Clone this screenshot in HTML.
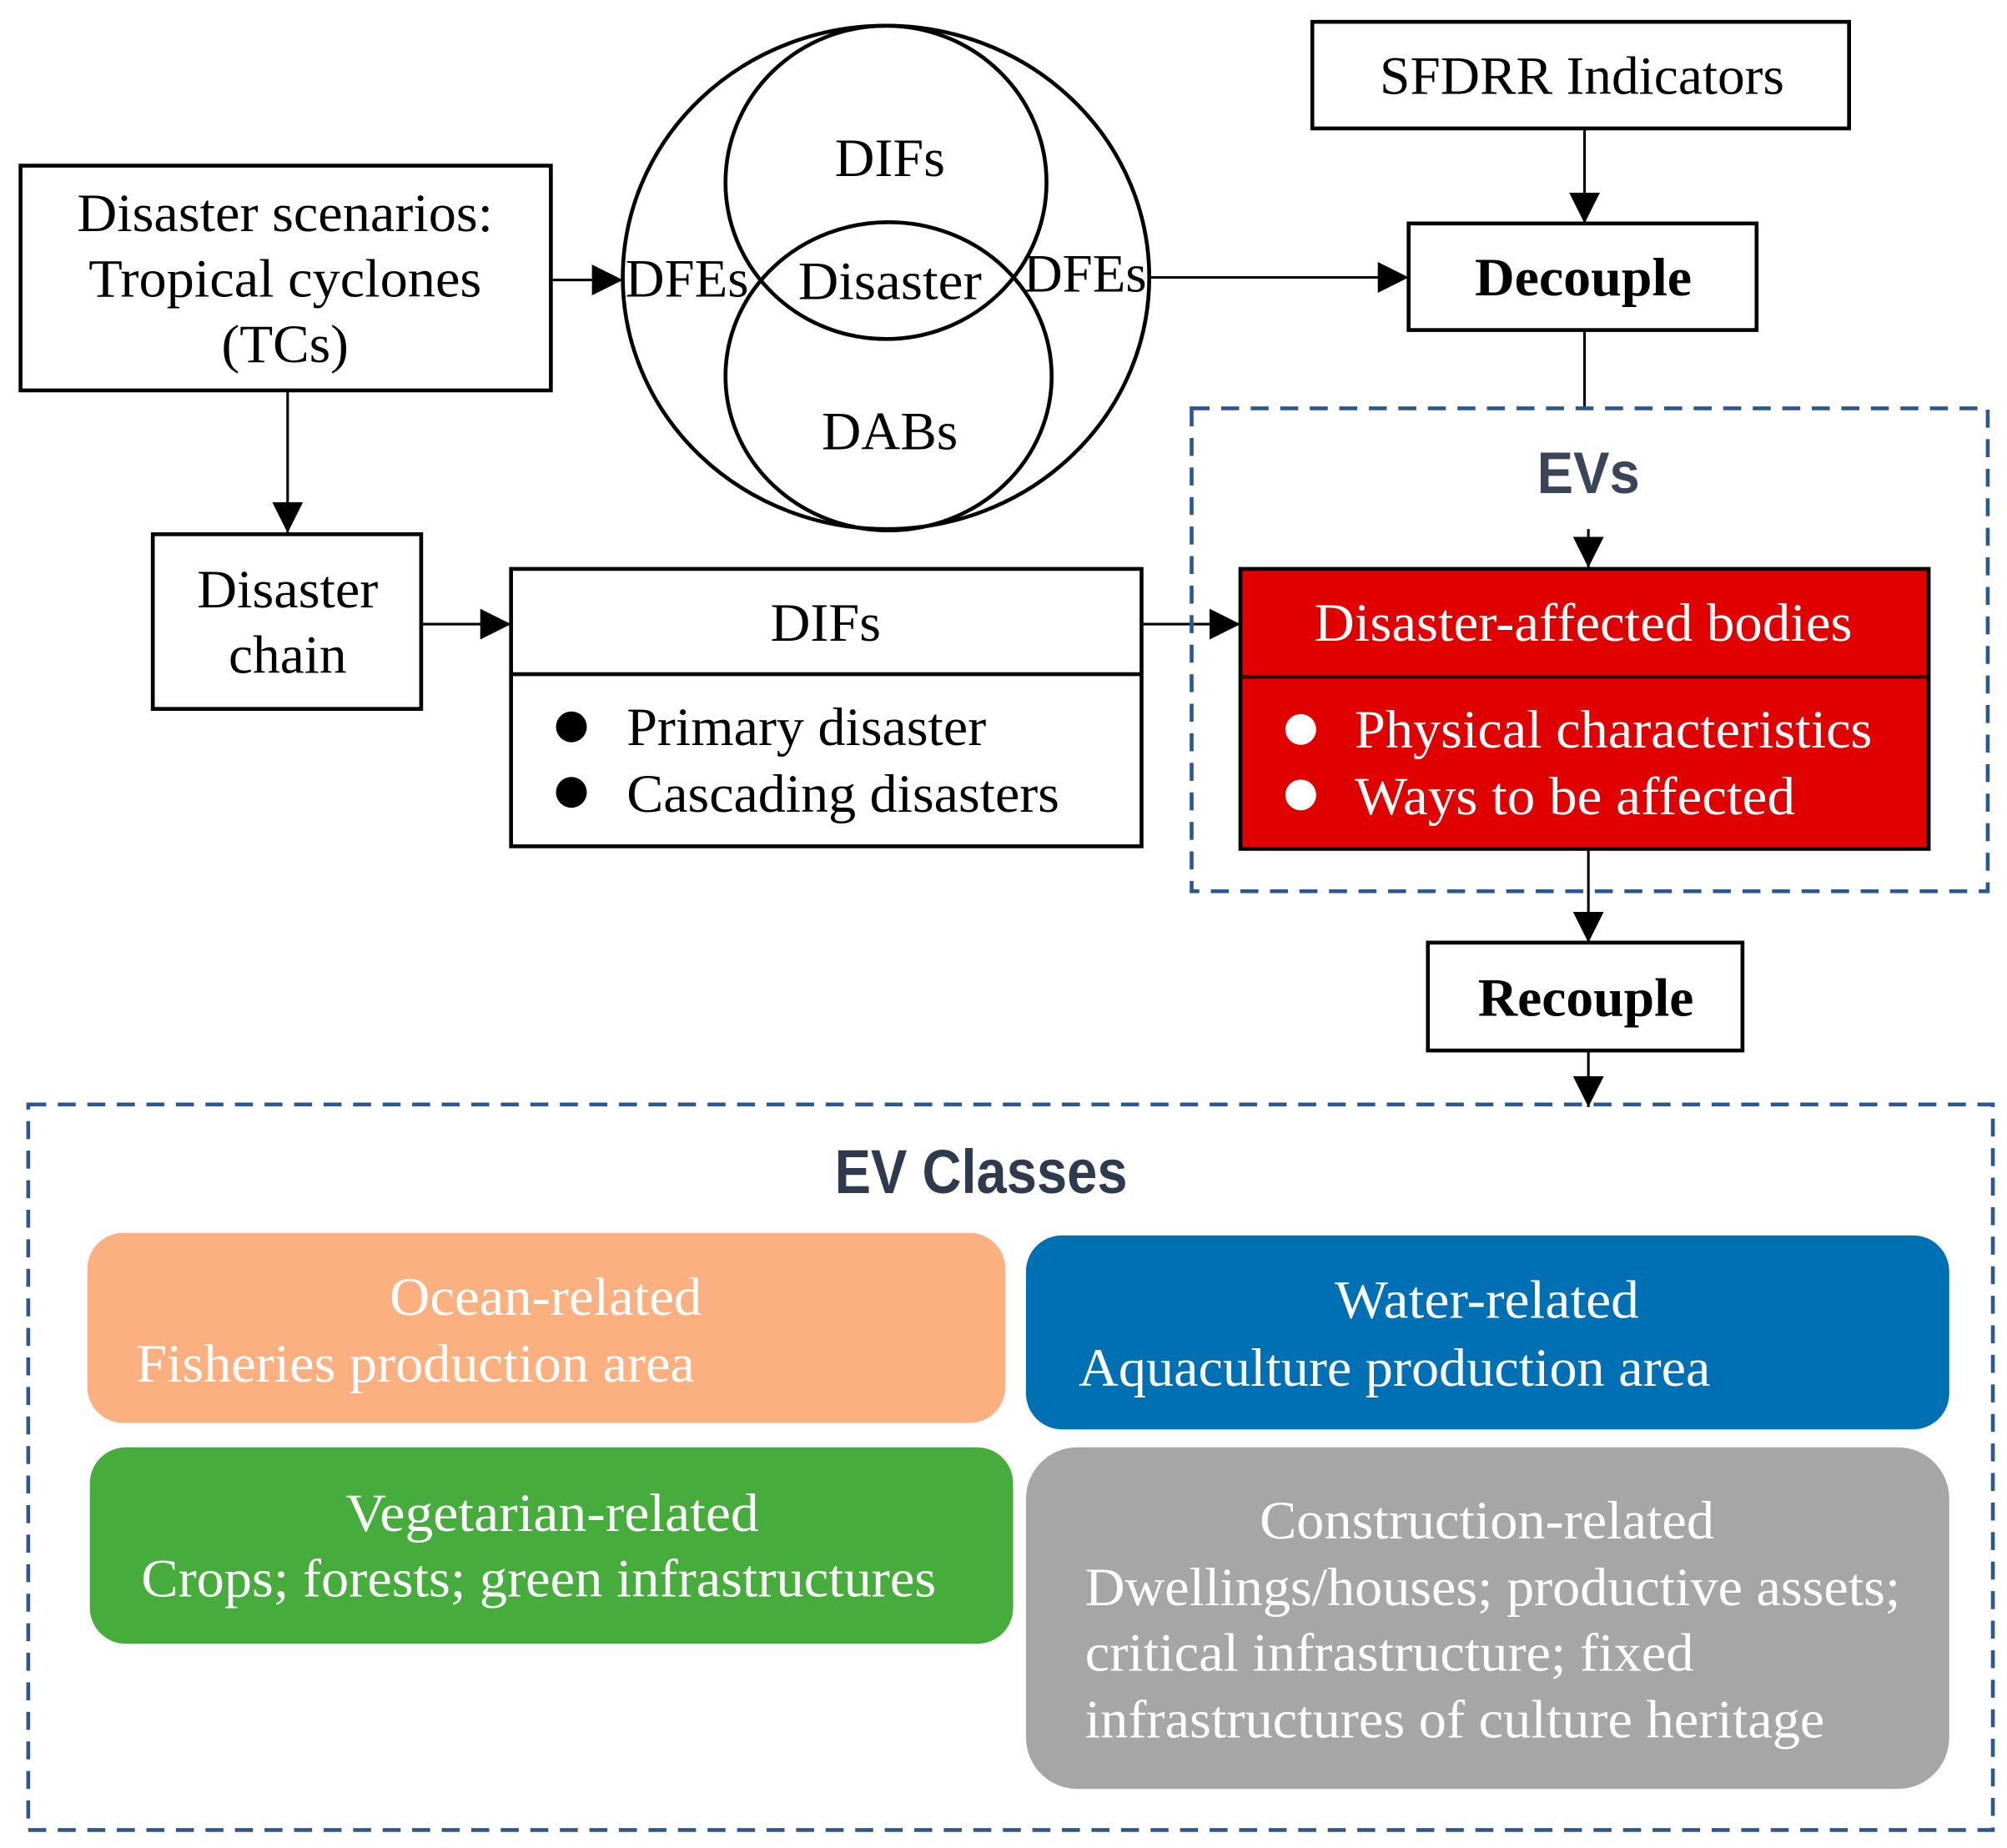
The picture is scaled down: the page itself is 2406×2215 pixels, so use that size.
<!DOCTYPE html>
<html><head><meta charset="utf-8"><style>html,body{margin:0;padding:0;background:#fff}svg{display:block}</style></head>
<body>
<svg width="2406" height="2215" viewBox="0 0 1563 1439" preserveAspectRatio="none" xmlns="http://www.w3.org/2000/svg">
<defs>
<marker id="ah" viewBox="0 0 10 10" refX="10" refY="5" markerWidth="24" markerHeight="24" markerUnits="userSpaceOnUse" orient="auto"><path d="M0,0 L10,5 L0,10 z" fill="#000"/></marker>
</defs>
<g font-family="Liberation Serif, serif" fill="#000" font-size="42">
<!-- Disaster scenarios -->
<rect x="16" y="129" width="413" height="175" fill="#fff" stroke="#000" stroke-width="3"/>
<text x="222" y="180" text-anchor="middle" textLength="324" lengthAdjust="spacingAndGlyphs">Disaster scenarios:</text>
<text x="222" y="231" text-anchor="middle" textLength="306" lengthAdjust="spacingAndGlyphs">Tropical cyclones</text>
<text x="222" y="282" text-anchor="middle" textLength="99" lengthAdjust="spacingAndGlyphs">(TCs)</text>
<!-- SFDRR -->
<rect x="1022" y="17" width="418" height="83" fill="#fff" stroke="#000" stroke-width="3"/>
<text x="1232" y="73" text-anchor="middle" textLength="315" lengthAdjust="spacingAndGlyphs">SFDRR Indicators</text>
<!-- Decouple -->
<rect x="1097" y="174" width="271" height="83" fill="#fff" stroke="#000" stroke-width="3"/>
<text x="1233" y="230" font-weight="bold" text-anchor="middle" textLength="169" lengthAdjust="spacingAndGlyphs">Decouple</text>
<!-- Venn -->
<ellipse cx="690" cy="216" rx="205" ry="196" fill="none" stroke="#000" stroke-width="3"/>
<ellipse cx="690" cy="142" rx="125" ry="122" fill="none" stroke="#000" stroke-width="3"/>
<ellipse cx="692" cy="293" rx="127" ry="120" fill="none" stroke="#000" stroke-width="3"/>
<text x="693" y="137" text-anchor="middle" textLength="86" lengthAdjust="spacingAndGlyphs">DIFs</text>
<text x="693" y="233" text-anchor="middle" textLength="143" lengthAdjust="spacingAndGlyphs">Disaster</text>
<text x="693" y="350" text-anchor="middle" textLength="106" lengthAdjust="spacingAndGlyphs">DABs</text>
<text x="535" y="231" text-anchor="middle" textLength="96" lengthAdjust="spacingAndGlyphs">DFEs</text>
<text x="845" y="227" text-anchor="middle" textLength="96" lengthAdjust="spacingAndGlyphs">DFEs</text>
<!-- connectors -->
<line x1="429" y1="218" x2="485" y2="218" stroke="#000" stroke-width="2" marker-end="url(#ah)"/>
<line x1="895" y1="216" x2="1097" y2="216" stroke="#000" stroke-width="2" marker-end="url(#ah)"/>
<line x1="1234" y1="100" x2="1234" y2="174" stroke="#000" stroke-width="2" marker-end="url(#ah)"/>
<line x1="1234" y1="257" x2="1234" y2="318" stroke="#000" stroke-width="2"/>
<line x1="224" y1="304" x2="224" y2="415" stroke="#000" stroke-width="2" marker-end="url(#ah)"/>
<line x1="328" y1="486" x2="398" y2="486" stroke="#000" stroke-width="2" marker-end="url(#ah)"/>
<line x1="889" y1="486" x2="966" y2="486" stroke="#000" stroke-width="2" marker-end="url(#ah)"/>
<line x1="1237" y1="412" x2="1237" y2="442" stroke="#000" stroke-width="2" marker-end="url(#ah)"/>
<line x1="1237" y1="661" x2="1237" y2="734" stroke="#000" stroke-width="2" marker-end="url(#ah)"/>
<line x1="1237" y1="818" x2="1237" y2="862" stroke="#000" stroke-width="2" marker-end="url(#ah)"/>
<!-- EVs dashed -->
<rect x="928" y="318" width="620" height="376" fill="none" stroke="#2b5891" stroke-width="3" stroke-dasharray="14,9"/>
<text x="1237" y="384" font-family="Liberation Sans, sans-serif" font-size="46" font-weight="bold" fill="#3a4658" text-anchor="middle" textLength="80" lengthAdjust="spacingAndGlyphs">EVs</text>
<!-- Disaster chain -->
<rect x="119" y="416" width="209" height="136" fill="#fff" stroke="#000" stroke-width="3"/>
<text x="224" y="473" text-anchor="middle" textLength="141" lengthAdjust="spacingAndGlyphs">Disaster</text>
<text x="224" y="524" text-anchor="middle" textLength="92" lengthAdjust="spacingAndGlyphs">chain</text>
<!-- DIFs box -->
<rect x="398" y="443" width="491" height="216" fill="#fff" stroke="#000" stroke-width="3"/>
<line x1="398" y1="525" x2="889" y2="525" stroke="#000" stroke-width="3"/>
<text x="643" y="499" text-anchor="middle" textLength="86" lengthAdjust="spacingAndGlyphs">DIFs</text>
<circle cx="445" cy="566" r="12" fill="#000"/>
<circle cx="445" cy="617" r="12" fill="#000"/>
<text x="488" y="580" textLength="280" lengthAdjust="spacingAndGlyphs">Primary disaster</text>
<text x="488" y="632" textLength="337" lengthAdjust="spacingAndGlyphs">Cascading disasters</text>
<!-- Red box -->
<rect x="966" y="443" width="536" height="218" fill="#e00000" stroke="#000" stroke-width="3"/>
<line x1="966" y1="527" x2="1502" y2="527" stroke="#300" stroke-width="3"/>
<text x="1233" y="499" fill="#fff" text-anchor="middle" textLength="419" lengthAdjust="spacingAndGlyphs">Disaster-affected bodies</text>
<circle cx="1013" cy="568" r="12" fill="#fff"/>
<circle cx="1013" cy="619" r="12" fill="#fff"/>
<text x="1055" y="582" fill="#fff" textLength="403" lengthAdjust="spacingAndGlyphs">Physical characteristics</text>
<text x="1055" y="634" fill="#fff" textLength="343" lengthAdjust="spacingAndGlyphs">Ways to be affected</text>
<!-- Recouple -->
<rect x="1112" y="734" width="245" height="84" fill="#fff" stroke="#000" stroke-width="3"/>
<text x="1235" y="791" font-weight="bold" text-anchor="middle" textLength="168" lengthAdjust="spacingAndGlyphs">Recouple</text>
<!-- EV Classes dashed -->
<rect x="22" y="860" width="1530" height="565" fill="none" stroke="#2b5891" stroke-width="3" stroke-dasharray="14,9"/>
<text x="764" y="929" font-family="Liberation Sans, sans-serif" font-size="48" font-weight="bold" fill="#2e3b4e" text-anchor="middle" textLength="228" lengthAdjust="spacingAndGlyphs">EV Classes</text>
<!-- class boxes -->
<rect x="68" y="960" width="715" height="148" rx="28" fill="#fdb07f"/>
<text x="425" y="1024" fill="#fff" text-anchor="middle" textLength="243" lengthAdjust="spacingAndGlyphs">Ocean-related</text>
<text x="106" y="1076" fill="#fff" textLength="435" lengthAdjust="spacingAndGlyphs">Fisheries production area</text>
<rect x="799" y="962" width="719" height="151" rx="28" fill="#0070b4"/>
<text x="1158" y="1026" fill="#fff" text-anchor="middle" textLength="237" lengthAdjust="spacingAndGlyphs">Water-related</text>
<text x="840" y="1079" fill="#fff" textLength="492" lengthAdjust="spacingAndGlyphs">Aquaculture production area</text>
<rect x="70" y="1127" width="719" height="153" rx="28" fill="#46ad3c"/>
<text x="430" y="1192" fill="#fff" text-anchor="middle" textLength="322" lengthAdjust="spacingAndGlyphs">Vegetarian-related</text>
<text x="110" y="1243" fill="#fff" textLength="619" lengthAdjust="spacingAndGlyphs">Crops; forests; green infrastructures</text>
<rect x="799" y="1127" width="719" height="266" rx="40" fill="#a6a6a6"/>
<text x="1158" y="1198" fill="#fff" text-anchor="middle" textLength="354" lengthAdjust="spacingAndGlyphs">Construction-related</text>
<text x="845" y="1250" fill="#fff" textLength="635" lengthAdjust="spacingAndGlyphs">Dwellings/houses; productive assets;</text>
<text x="845" y="1301" fill="#fff" textLength="474" lengthAdjust="spacingAndGlyphs">critical infrastructure; fixed</text>
<text x="845" y="1353" fill="#fff" textLength="576" lengthAdjust="spacingAndGlyphs">infrastructures of culture heritage</text>
</g>
</svg>
</body></html>
